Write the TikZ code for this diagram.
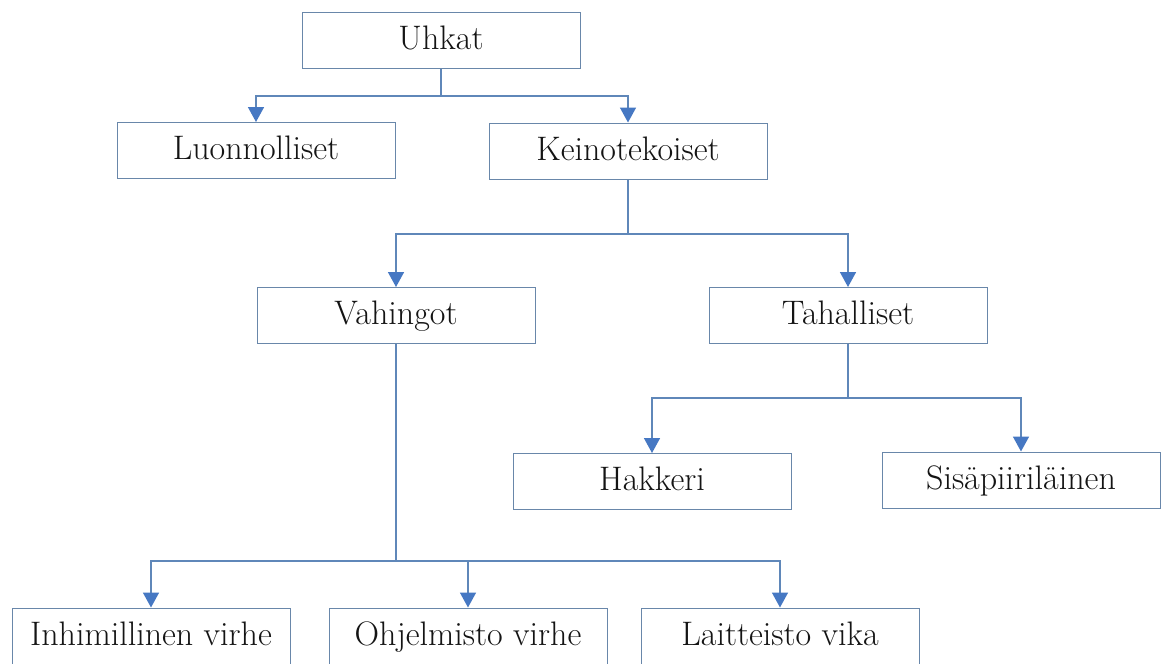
\documentclass[tikz,border=0pt]{standalone}
\usetikzlibrary{arrows.meta}
\definecolor{boxline}{RGB}{105,135,170}
\definecolor{connline}{RGB}{95,135,185}
\definecolor{arrowblue}{RGB}{70,120,195}
\definecolor{txt}{RGB}{20,20,20}
\begin{document}
\begin{tikzpicture}[x=1pt,y=-1pt,
  box/.style={draw=boxline,line width=1pt,fill=white,minimum width=278pt,minimum height=56pt,
    inner sep=0pt,text height=23pt,text depth=5pt,font=\fontsize{34}{40}\selectfont,text=txt},
  conn/.style={draw=connline,line width=1.6pt,-{Triangle[width=16pt,length=15pt,color=arrowblue]}},
  plain/.style={draw=connline,line width=1.6pt}]
\useasboundingbox[fill=white] (0,0) rectangle (1163,664);
\node[box] (u) at (441,40) {Uhkat};
\node[box] (l) at (256,150.5) {Luonnolliset};
\node[box] (k) at (628,151) {Keinotekoiset};
\node[box] (v) at (396,315.5) {Vahingot};
\node[box] (t) at (848,315.5) {Tahalliset};
\node[box] (h) at (652,481.5) {Hakkeri};
\node[box] (s) at (1021,480) {Sisäpiiriläinen};
\node[box] (i) at (151,636) {Inhimillinen virhe};
\node[box] (o) at (468,636) {Ohjelmisto virhe};
\node[box] (la) at (780,636) {Laitteisto vika};
\coordinate (uj) at (441,96);
\coordinate (kj) at (628,234);
\coordinate (tj) at (848,398);
\coordinate (vj) at (396,561);
\draw[plain] (u.south) -- (uj);
\draw[conn] (uj) -| (l.north);
\draw[conn] (uj) -| (k.north);
\draw[plain] (k.south) -- (kj);
\draw[conn] (kj) -| (v.north);
\draw[conn] (kj) -| (t.north);
\draw[plain] (t.south) -- (tj);
\draw[conn] (tj) -| (h.north);
\draw[conn] (tj) -| (s.north);
\draw[plain] (v.south) -- (vj);
\draw[conn] (vj) -| (i.north);
\draw[conn] (vj) -| (o.north);
\draw[conn] (vj) -| (la.north);
\end{tikzpicture}
\end{document}
